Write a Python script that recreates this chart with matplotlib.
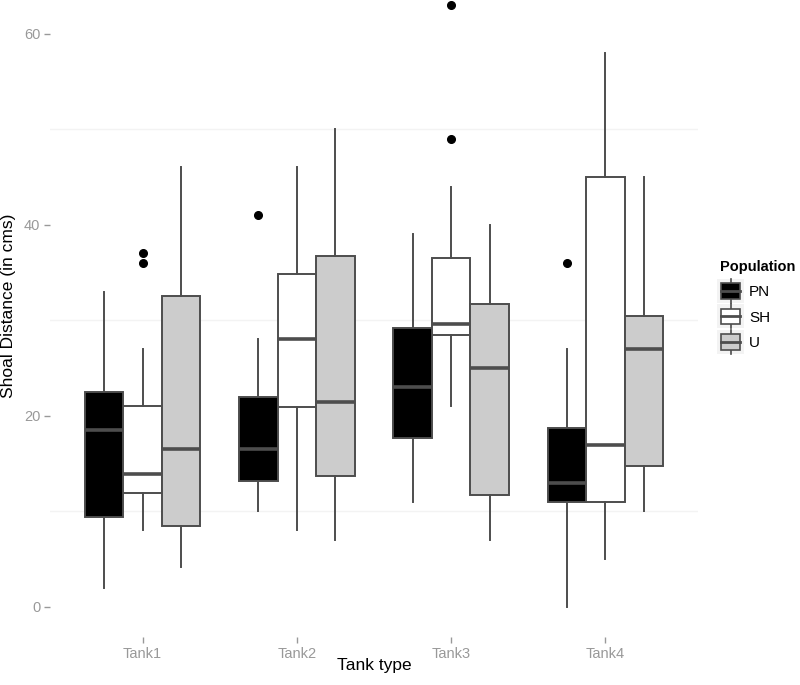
import matplotlib
matplotlib.use("Agg")
import matplotlib.pyplot as plt
from matplotlib.legend_handler import HandlerBase
from matplotlib.patches import Rectangle
from matplotlib.lines import Line2D

plt.rcParams["font.family"] = ["Liberation Sans", "DejaVu Sans"]

# values (cms)
tanks = ["Tank1", "Tank2", "Tank3", "Tank4"]
populations = ["PN", "SH", "U"]
fills = {"PN": "#000000", "SH": "#ffffff", "U": "#cccccc"}

# per population, per tank: whisker low, q1, median, q3, whisker high
whislo = {"PN": [2, 10, 11, 0], "SH": [8, 8, 21, 5], "U": [4.2, 7, 7, 10]}
q1 = {"PN": [9.4, 13.2, 17.7, 11], "SH": [11.9, 20.9, 28.5, 11], "U": [8.5, 13.7, 11.7, 14.7]}
med = {"PN": [18.5, 16.5, 23, 13], "SH": [13.9, 28, 29.6, 17], "U": [16.5, 21.5, 25, 27]}
q3 = {"PN": [22.5, 22, 29.2, 18.7], "SH": [21, 34.9, 36.5, 45], "U": [32.5, 36.7, 31.7, 30.5]}
whishi = {"PN": [33, 28, 39, 27], "SH": [27, 46, 44, 58], "U": [46, 50, 40, 45]}
outliers = {"PN": [[], [41], [], [36]],
            "SH": [[37, 36], [], [63, 49], []],
            "U": [[], [], [], []]}

edge = "#4d4d4d"

fig = plt.figure(figsize=(8, 6.85), dpi=100)
ax = fig.add_axes([50 / 800, 48 / 685, 648 / 800, 662 / 685])

width = 0.25
for j, pop in enumerate(populations):
    offset = (j - 1) * width
    stats = []
    for i in range(len(tanks)):
        stats.append(dict(whislo=whislo[pop][i], q1=q1[pop][i], med=med[pop][i],
                          q3=q3[pop][i], whishi=whishi[pop][i], fliers=outliers[pop][i]))
    ax.bxp(stats, positions=[i + 1 + offset for i in range(len(tanks))],
           widths=width, patch_artist=True, showcaps=False,
           boxprops=dict(facecolor=fills[pop], edgecolor=edge, linewidth=1.4),
           whiskerprops=dict(color=edge, linewidth=1.4),
           medianprops=dict(color=edge, linewidth=2.6, solid_capstyle="butt"),
           flierprops=dict(marker="o", markerfacecolor="black", markeredgecolor="black",
                           markersize=5.5))

ax.set_xlim(0.4, 4.6)
ax.set_ylim(-3.15, 66.15)
ax.set_xticks(range(1, len(tanks) + 1))
ax.set_xticklabels(tanks)
ax.set_yticks([0, 20, 40, 60])
ax.set_yticks([10, 30, 50], minor=True)
ax.grid(False)
ax.grid(True, which="minor", axis="y", color="#f3f3f3", linewidth=1)
ax.set_axisbelow(True)
for s in ax.spines.values():
    s.set_visible(False)
ax.tick_params(axis="both", which="major", colors="#999999", labelsize=10.5,
               length=4, width=1, pad=3)
ax.tick_params(axis="y", which="minor", length=0)
ax.set_xlabel("Tank type", fontsize=12.5, labelpad=-2)
ax.set_ylabel("Shoal Distance (in cms)", fontsize=12.5, labelpad=6)


class BoxKey(HandlerBase):
    def create_artists(self, legend, orig_handle, xdescent, ydescent, width, height, fontsize, trans):
        fc = orig_handle.get_facecolor()
        bg = Rectangle((-xdescent - 2, -ydescent - 3), width + 4, height + 6,
                       facecolor="#f3f3f3", edgecolor="none", transform=trans)
        cx = -xdescent + width / 2
        whisk = Line2D([cx, cx], [-ydescent - 3, -ydescent + height + 3],
                       color=edge, linewidth=1.2, transform=trans)
        box = Rectangle((-xdescent + 1, -ydescent), width - 2, height,
                        facecolor=fc, edgecolor=edge, linewidth=1.2, transform=trans)
        mid = Line2D([-xdescent + 1, -xdescent + width - 1],
                     [-ydescent + height / 2] * 2, color=edge, linewidth=2, transform=trans)
        return [bg, whisk, box, mid]


handles = [Rectangle((0, 0), 1, 1, facecolor=fills[p]) for p in populations]
leg = fig.legend(handles, populations, handler_map={Rectangle: BoxKey()},
                 loc="upper left", bbox_to_anchor=(0.9, 0.621), frameon=False,
                 title="Population", fontsize=11, handlelength=1.4, handleheight=1.2,
                 labelspacing=0.62, handletextpad=0.5, borderaxespad=0, borderpad=0)
leg.get_title().set_fontweight("bold")
leg.get_title().set_fontsize(10.5)
leg._legend_box.align = "left"

fig.savefig("out.png", dpi=100)
